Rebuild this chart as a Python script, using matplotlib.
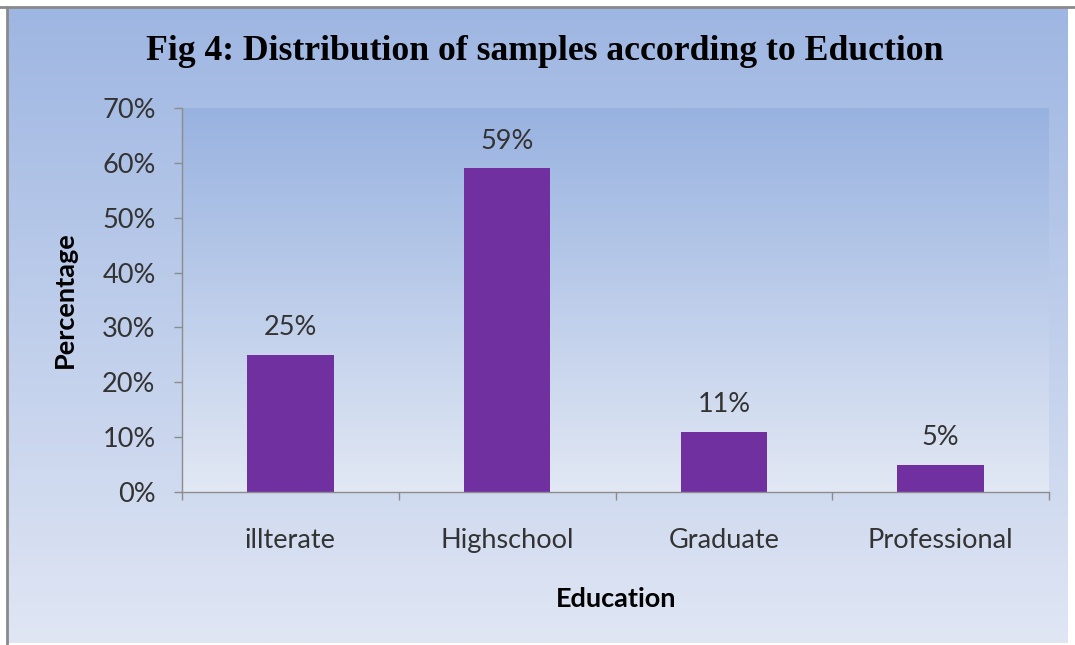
import numpy as np
import matplotlib.pyplot as plt
from matplotlib.lines import Line2D

categories = ["illterate", "Highschool", "Graduate", "Professional"]
values = [25, 59, 11, 5]
y_ticks = [0, 10, 20, 30, 40, 50, 60, 70]
y_tick_labels = [f"{v}%" for v in y_ticks]

title = "Fig 4: Distribution of samples according to Eduction"
x_label = "Education"
y_label = "Percentage"

W, H = 1075, 645
fig = plt.figure(figsize=(W / 100, H / 100), dpi=100)
fig.patch.set_facecolor("white")

label_font = ["Lato", "DejaVu Sans"]
text_color = "#333333"
bar_color = "#7030A0"
fs = 19.5


def vertical_gradient(top_rgb, bottom_rgb, n=256):
    t = np.linspace(0, 1, n)[:, None]
    top = np.array(top_rgb) / 255.0
    bot = np.array(bottom_rgb) / 255.0
    g = top[None, :] * (1 - t) + bot[None, :] * t
    return g[:, None, :]


# chart area background with frame
bg = fig.add_axes([0, 0, 1, 1], zorder=0)
bg.set_xlim(0, W)
bg.set_ylim(H, 0)
bg.axis("off")
bg.imshow(vertical_gradient((158, 182, 226), (224, 230, 244)),
          extent=[7, 1068, 643, 7], aspect="auto", zorder=0)
bg.add_line(Line2D([0, W], [7, 7], color="#8a8a8a", lw=2, zorder=2))
bg.add_line(Line2D([6.5, 6.5], [7, 645], color="#8a8a8a", lw=2, zorder=2))

# plot area
left, right, top, bottom = 182, 1049, 108, 492
ax = fig.add_axes([left / W, (H - bottom) / H, (right - left) / W, (bottom - top) / H], zorder=1)
ax.set_facecolor("none")
ax.imshow(vertical_gradient((152, 178, 224), (226, 232, 244)),
          extent=[0, 1, 0, 1], transform=ax.transAxes, aspect="auto", zorder=0)

x = np.arange(len(categories))
bars = ax.bar(x, values, width=0.4, color=bar_color, zorder=2)
ax.set_xlim(-0.5, len(categories) - 0.5)
ax.set_ylim(0, 70)

for rect, v in zip(bars, values):
    ax.annotate(f"{v}%", (rect.get_x() + rect.get_width() / 2, v),
                xytext=(0, 10.5), textcoords="offset points",
                ha="center", va="bottom", fontsize=fs, color=text_color,
                family=label_font)

ax.set_yticks(y_ticks)
ax.set_yticklabels(y_tick_labels, family=label_font, fontsize=fs, color=text_color)
ax.set_xticks(np.arange(len(categories) + 1) - 0.5, minor=False)
ax.set_xticklabels([""] * (len(categories) + 1))
ax.set_xticks(x, minor=True)
ax.set_xticklabels(categories, minor=True, family=label_font, fontsize=fs, color=text_color)

ax.tick_params(axis="y", length=6, width=1, color="#8c8c8c", pad=13)
ax.tick_params(axis="x", which="major", length=6, width=1, color="#8c8c8c")
ax.tick_params(axis="x", which="minor", length=0, pad=26)

for side in ("top", "right"):
    ax.spines[side].set_visible(False)
for side in ("left", "bottom"):
    ax.spines[side].set_color("#8c8c8c")
    ax.spines[side].set_linewidth(1)

fig.text(545 / W, 1 - 52 / H, title, ha="center", va="center",
         family="Liberation Serif", fontweight="bold", fontsize=25.7, color="black")
fig.text(65 / W, 1 - 300 / H, y_label, rotation=90, ha="center", va="center",
         family=label_font, fontweight="bold", fontsize=fs, color="black")
fig.text(616 / W, 1 - 599 / H, x_label, ha="center", va="center",
         family=label_font, fontweight="bold", fontsize=fs, color="black")

fig.savefig("out.png", dpi=100, facecolor=fig.get_facecolor())
